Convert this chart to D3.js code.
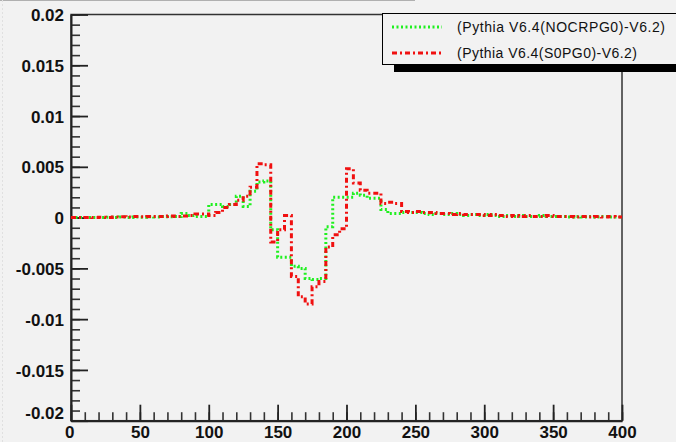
<!DOCTYPE html>
<html><head><meta charset="utf-8">
<script src="https://cdn.jsdelivr.net/npm/d3@7"></script>
<style>
html,body{margin:0;padding:0;background:#f2f2f2;}
svg{display:block;}
</style></head>
<body>
<script>
// bin lower edges (width 5)
const binWidth = 5;
const binEdges = [0,5,10,15,20,25,30,35,40,45,50,55,60,65,70,75,80,85,90,95,
  100,105,110,115,120,125,130,135,140,145,150,155,160,165,170,175,180,185,190,195,
  200,205,210,215,220,225,230,235,240,245,250,255,260,265,270,275,280,285,290,295,
  300,305,310,315,320,325,330,335,340,345,350,355,360,365,370,375,380,385,390,395];
const greenValues = [0,0,0,0.00002,0,0.00003,0,0.00005,0.00002,0.00005,0.00003,0.00008,0.00005,0.0001,0.00008,0.0001,
  0.0004,0.0002,0.0001,0.0001,0.0013,0.0013,0.0011,0.0013,0.0021,0.0011,0.0026,0.0035,0.0036,-0.0012,
  -0.0039,-0.0039,-0.0048,-0.0050,-0.0060,-0.0061,-0.0060,-0.0009,0.0020,0.0020,
  0.0020,0.0024,0.0022,0.0019,0.0019,0.0008,0.0004,0.0004,0.0005,0.0005,
  0.0005,0.0004,0.0003,0.0004,0.0003,0.0004,0.0003,0.0002,0.0003,0.0002,
  0.0003,0.0002,0.0001,0.0002,0.0001,0.0002,0.0001,0.0001,0.0002,0.0001,
  0.0001,0.0001,0.00005,0.0001,0.00005,0.0001,0.00005,0.0001,0.00005,0.00005];
const redValues = [0,0,0.00002,0,0.00003,0,0.00005,0.00008,0.00005,0.0001,0.00008,0.0001,0.00012,0.0001,0.00015,0.0001,
  0.00015,0.0002,0.00035,0.00035,0.0002,0.0005,0.0010,0.0013,0.0017,0.0021,0.0030,0.0053,0.0052,-0.0024,
  -0.0012,0.0002,-0.0058,-0.0078,-0.0085,-0.0068,-0.0063,-0.0029,-0.0017,-0.0011,
  0.0048,0.0034,0.0027,0.0024,0.0024,0.0014,0.0015,0.0014,0.0006,0.0005,
  0.0006,0.0005,0.0005,0.0004,0.0004,0.0003,0.0004,0.0003,0.0003,0.0003,
  0.0002,0.0003,0.0002,0.0001,0.0002,0.0001,0.0002,0.0001,0.0001,0.0002,
  0.0001,0.0001,0.0001,0.00005,0.0001,0.00005,0.0001,0.00005,0.0001,0.00005];
const xTicks = [0,50,100,150,200,250,300,350,400];
const yTicks = [-0.02,-0.015,-0.01,-0.005,0,0.005,0.01,0.015,0.02];
const yTickLabels = ["-0.02","-0.015","-0.01","-0.005","0","0.005","0.01","0.015","0.02"];
const legendLabels = ["(Pythia V6.4(NOCRPG0)-V6.2)","(Pythia V6.4(S0PG0)-V6.2)"];

const W = 676, H = 442;
const L = 71, R = 622, T = 14.5, B = 420.7;

const svg = d3.select("body").append("svg").attr("width", W).attr("height", H)
  .style("background", "#f2f2f2");

const x = d3.scaleLinear().domain([0, 400]).range([L, R]);
const y = d3.scaleLinear().domain([-0.02, 0.02]).range([B, T]);

// top title box remnant & left dotted edge
svg.append("line").attr("x1", 0).attr("x2", 415).attr("y1", 0.5).attr("y2", 0.5)
  .attr("stroke", "#b0b0b0").attr("stroke-width", 1);
svg.append("line").attr("x1", 2.5).attr("x2", 2.5).attr("y1", 0).attr("y2", H)
  .attr("stroke", "#e0e0e0").attr("stroke-width", 1).attr("stroke-dasharray", "2,2");

// clip
svg.append("clipPath").attr("id", "clip").append("rect")
  .attr("x", L).attr("y", T).attr("width", R - L).attr("height", B - T);

// frame
svg.append("rect").attr("x", L).attr("y", T).attr("width", R - L).attr("height", B - T)
  .attr("fill", "none").attr("stroke", "#333").attr("stroke-width", 1.5);

// minor ticks
const yMinor = d3.range(-0.02, 0.02001, 0.001);
svg.append("g").attr("transform", `translate(${L},0)`)
  .call(d3.axisLeft(y).tickValues(yMinor).tickSizeInner(-9).tickSizeOuter(0).tickFormat(""))
  .call(g => g.select(".domain").remove())
  .call(g => g.selectAll("line").attr("stroke", "#333").attr("stroke-width", 1.6));
const xMinor = d3.range(0, 401, 10);
svg.append("g").attr("transform", `translate(0,${B})`)
  .call(d3.axisBottom(x).tickValues(xMinor).tickSizeInner(-8.5).tickSizeOuter(0).tickFormat(""))
  .call(g => g.select(".domain").remove())
  .call(g => g.selectAll("line").attr("stroke", "#333").attr("stroke-width", 1.6));

// major axes
const yAxis = svg.append("g").attr("transform", `translate(${L},0)`)
  .call(d3.axisLeft(y).tickValues(yTicks).tickSizeInner(-17).tickSizeOuter(0).tickPadding(7)
    .tickFormat((d, i) => yTickLabels[i]));
yAxis.select(".domain").attr("stroke", "#222").attr("stroke-width", 2);
yAxis.selectAll("line").attr("stroke", "#222").attr("stroke-width", 1.8);
yAxis.selectAll("text").attr("font-family", "'Liberation Sans', Arial, sans-serif")
  .attr("font-weight", "bold").attr("font-size", 17).attr("fill", "#111")
  .attr("dy", (d) => d === -0.02 ? "-0.12em" : "0.36em");

const xAxis = svg.append("g").attr("transform", `translate(0,${B})`)
  .call(d3.axisBottom(x).tickValues(xTicks).tickSizeInner(-16).tickSizeOuter(0).tickPadding(5));
xAxis.select(".domain").attr("stroke", "#222").attr("stroke-width", 2);
xAxis.selectAll("line").attr("stroke", "#222").attr("stroke-width", 1.8);
xAxis.selectAll("text").attr("font-family", "'Liberation Sans', Arial, sans-serif")
  .attr("font-weight", "bold").attr("font-size", 17).attr("fill", "#111")
  .attr("dx", d => d === 0 ? "-0.1em" : 0);

// histograms
function histPoints(vals) {
  const pts = binEdges.map((e, i) => [e, vals[i]]);
  pts.push([binEdges[binEdges.length - 1] + binWidth, vals[vals.length - 1]]);
  return pts;
}
const line = d3.line().x(d => x(d[0])).y(d => y(d[1])).curve(d3.curveStepAfter);
const plot = svg.append("g").attr("clip-path", "url(#clip)");
plot.append("path").attr("d", line(histPoints(greenValues)))
  .attr("fill", "none").attr("stroke", "#1ff01f").attr("stroke-width", 3)
  .attr("stroke-dasharray", "2,2.5");
plot.append("path").attr("d", line(histPoints(redValues)))
  .attr("fill", "none").attr("stroke", "#f01010").attr("stroke-width", 3)
  .attr("stroke-dasharray", "5,3,2,3");

// legend
svg.append("rect").attr("x", 394).attr("y", 64).attr("width", 290).attr("height", 8).attr("fill", "#000");
svg.append("rect").attr("x", 382.5).attr("y", 13.5).attr("width", 300).attr("height", 51)
  .attr("fill", "#f2f2f2").attr("stroke", "#000").attr("stroke-width", 1);
const legendColors = ["#1ff01f", "#f01010"];
const legendDash = ["2,2.5", "5,3,2,3"];
const legendWidths = [208, 180];
const legendY = [27, 53];
legendLabels.forEach((lab, i) => {
  svg.append("line").attr("x1", 392).attr("x2", 442).attr("y1", legendY[i]).attr("y2", legendY[i])
    .attr("stroke", legendColors[i]).attr("stroke-width", 3).attr("stroke-dasharray", legendDash[i]);
  svg.append("text").attr("x", 457).attr("y", legendY[i] + 5)
    .attr("font-family", "'Liberation Sans', Arial, sans-serif").attr("font-size", 14)
    .attr("fill", "#111").attr("textLength", legendWidths[i]).attr("lengthAdjust", "spacing")
    .text(lab);
});
</script>
</body></html>
